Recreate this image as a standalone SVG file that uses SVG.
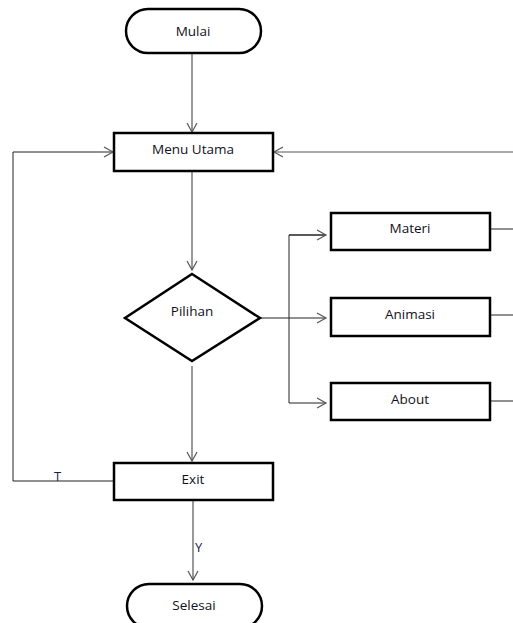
<svg xmlns="http://www.w3.org/2000/svg" width="513" height="623" viewBox="0 0 513 623">
<style>
.n{fill:#fff;stroke:#000;stroke-width:2.5}
.t{font-family:"Open Sans","Noto Sans",sans-serif;font-size:13.5px;fill:#111122;text-anchor:middle}
.c{fill:none;stroke:#555;stroke-width:1.2}
.k{fill:none;stroke:#222;stroke-width:1}
.l{font-family:"Open Sans","Noto Sans",sans-serif;font-size:13px;fill:#1a1a4e}
</style>
<defs>
<marker id="a" markerWidth="12" markerHeight="12" refX="10" refY="6" orient="auto" markerUnits="userSpaceOnUse">
<path d="M1,1 L10,6 L1,11" fill="none" stroke="#555" stroke-width="1.2"/>
</marker>
</defs>
<rect width="513" height="623" fill="#fff"/>
<g id="connectors">
<path class="c" d="M192,54 V132" marker-end="url(#a)"/>
<path class="c" d="M192,172 V270" marker-end="url(#a)"/>
<path class="c" d="M513,152 H274" marker-end="url(#a)"/>
<path class="k" d="M114,481 H13 V152 H113" marker-end="url(#a)"/>
<path class="k" d="M260,318 H326" marker-end="url(#a)"/>
<path class="k" d="M326,235 H289 V403 H326" marker-end="url(#a)"/>
<path class="k" d="M289,235 H326" marker-end="url(#a)"/>
<path class="k" d="M491,229 H513 M491,315 H513 M491,401 H513"/>
<path class="c" d="M192,366 V461" marker-end="url(#a)"/>
<path class="c" d="M193,501 V580" marker-end="url(#a)"/>
<text class="l" x="54" y="481">T</text>
<text class="l" x="195" y="552">Y</text>
</g>
<g id="mulai"><rect class="n" x="126" y="9" width="135" height="44" rx="22"/><text class="t" x="193" y="36">Mulai</text></g>
<g id="menu"><rect class="n" x="114" y="133" width="159" height="38"/><text class="t" x="193" y="154">Menu Utama</text></g>
<g id="pilihan"><polygon class="n" points="192,274 260,318 192,361 125,318"/><text class="t" x="192" y="316">Pilihan</text></g>
<g id="materi"><rect class="n" x="331" y="213" width="159" height="37"/><text class="t" x="410" y="233">Materi</text></g>
<g id="animasi"><rect class="n" x="331" y="298" width="159" height="38"/><text class="t" x="410" y="319">Animasi</text></g>
<g id="about"><rect class="n" x="331" y="383" width="159" height="37"/><text class="t" x="410" y="404">About</text></g>
<g id="exit"><rect class="n" x="114" y="463" width="159" height="37"/><text class="t" x="193" y="484">Exit</text></g>
<g id="selesai"><rect class="n" x="127" y="584" width="135" height="44" rx="22"/><text class="t" x="194" y="610">Selesai</text></g>
</svg>
